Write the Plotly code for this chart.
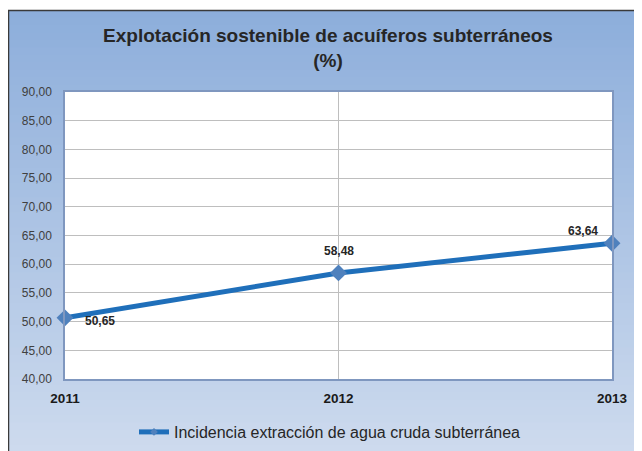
import plotly.graph_objects as go

years = ["2011", "2012", "2013"]
values = [50.65, 58.48, 63.64]
labels = ["50,65", "58,48", "63,64"]
series_name = "Incidencia extracción de agua cruda subterránea"
title_text = "Explotación sostenible de acuíferos subterráneos<br>(%)"

# page body adds an 8px offset; work in screen pixels and subtract it
OFF = 8
W, H = 642 - OFF, 451 - OFF
L, R, T, B = 65 - OFF, 642 - 612, 92 - OFF, 451 - 379
pw, ph = W - L - R, H - T - B

def px_x(x):
    return (x - OFF - L) / pw

def px_y(y):
    return (H - B - (y - OFF)) / ph

fig = go.Figure()
fig.add_trace(go.Scatter(
    x=years, y=values, mode="lines+markers", name=series_name, showlegend=False,
    line=dict(color="#1F6FBA", width=5),
    marker=dict(symbol="diamond", size=13, color="#4F81BD"),
    cliponaxis=False,
))
# legend entry (small marker as in the reference)
fig.add_trace(go.Scatter(
    x=[None], y=[None], mode="lines+markers", name=series_name,
    line=dict(color="#1F6FBA", width=5),
    marker=dict(symbol="diamond", size=6, color="#4F81BD"),
))

label_pos = [dict(xanchor="left", xshift=18, yshift=-3),
             dict(xanchor="center", xshift=0, yshift=22),
             dict(xanchor="center", xshift=-29, yshift=12)]
annotations = []
for idx, (yv, lab, p) in enumerate(zip(values, labels, label_pos)):
    annotations.append(dict(x=idx, y=yv, xref="x", yref="y", text="<b>%s</b>" % lab,
                            showarrow=False, yanchor="middle",
                            font=dict(family="Liberation Sans, Arial", size=12, color="#262626"),
                            **p))

shapes = []
top_c = (141, 174, 219)
bot_c = (206, 219, 238)
y0px, y1px = 10, 460
n = 60
for i in range(n):
    a = y0px + (y1px - y0px) * i / n
    b = y0px + (y1px - y0px) * (i + 1) / n + 0.6
    t = i / (n - 1)
    c = tuple(round(top_c[k] + (bot_c[k] - top_c[k]) * t) for k in range(3))
    shapes.append(dict(type="rect", xref="paper", yref="paper", layer="below",
                       x0=px_x(8), x1=px_x(660), y0=px_y(b), y1=px_y(a),
                       fillcolor="rgb(%d,%d,%d)" % c, line=dict(width=0)))
shapes.append(dict(type="rect", xref="paper", yref="paper", layer="below",
                   x0=0, x1=1, y0=0, y1=1, fillcolor="white", line=dict(width=0)))
shapes.append(dict(type="line", xref="paper", yref="paper", layer="above",
                   x0=px_x(8.5), x1=px_x(8.5), y0=px_y(10), y1=px_y(460),
                   line=dict(color="#3A3A3A", width=1.5)))
shapes.append(dict(type="line", xref="paper", yref="paper", layer="above",
                   x0=px_x(8), x1=px_x(660), y0=px_y(10.5), y1=px_y(10.5),
                   line=dict(color="#3A3A3A", width=1.5)))

fig.update_layout(
    width=W, height=H,
    margin=dict(l=L, r=R, t=T, b=B, autoexpand=False),
    paper_bgcolor="white", plot_bgcolor="white",
    separators=",.",
    font=dict(family="Liberation Sans, Arial", color="#262626"),
    title=dict(text=title_text, x=(328 - OFF) / W, xanchor="center",
               y=1 - (42 - OFF) / H, yanchor="middle",
               font=dict(size=19, color="#262626", weight="bold")),
    showlegend=True,
    legend=dict(orientation="h", x=px_x(330), xanchor="center", y=px_y(432), yanchor="middle",
                font=dict(size=16, color="#262626"), bgcolor="rgba(0,0,0,0)"),
    shapes=shapes,
    annotations=annotations,
    xaxis=dict(type="category", range=[0, 2], showgrid=True, gridcolor="#BEBEBE", gridwidth=1,
               showline=True, linecolor="#7F97BF", linewidth=1.5, mirror=True,
               ticks="outside", ticklen=6, tickcolor="rgba(0,0,0,0)",
               tickfont=dict(size=13.5, color="#1A1A1A", weight="bold"), zeroline=False),
    yaxis=dict(range=[40, 90], dtick=5, tickformat=".2f", showgrid=True, gridcolor="#BEBEBE",
               gridwidth=1, showline=True, linecolor="#7F97BF", linewidth=1.5, mirror=True,
               ticks="outside", ticklen=9, tickcolor="rgba(0,0,0,0)",
               tickfont=dict(size=12, color="#404040"), zeroline=False),
)

fig.write_html("out.html")
